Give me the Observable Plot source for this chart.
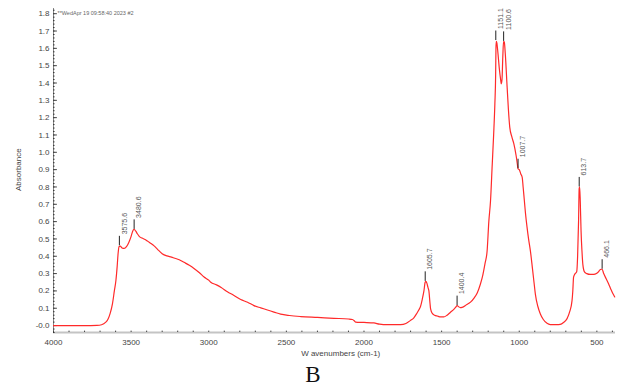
<!DOCTYPE html>
<html>
<head>
<meta charset="utf-8">
<script src="https://cdn.jsdelivr.net/npm/d3@7"></script>
<script src="https://cdn.jsdelivr.net/npm/@observablehq/plot@0.6"></script>
<style>
  body { margin: 0; background: #fff; }
  #wrap { position: relative; width: 621px; height: 389px; }
  #cap { position: absolute; left: 0; width: 626px; top: 362px; text-align: center; font-family: "Liberation Serif", "DejaVu Serif", serif; font-size: 23px; color: #111; line-height: 26px; }
</style>
</head>
<body>
<div id="wrap"><div id="chart"></div><div id="cap">B</div></div>
<script>
const wavenumbers = [4000,3800,3720,3690,3665,3650,3635,3620,3608,3598,3590,3584,3578,3570,3558,3545,3530,3515,3500,3490,3481,3470,3460,3448,3430,3410,3395,3375,3352,3330,3300,3270,3240,3223,3190,3159,3125,3095,3060,3030,3000,2987,2950,2920,2880,2840,2794,2750,2709,2665,2622,2580,2537,2480,2408,2300,2194,2100,2075,2060,2054,2000,1936,1900,1850,1764,1730,1700,1679,1660,1647,1636,1625,1614,1606,1601,1595,1588,1582,1575,1571,1560,1545,1528,1505,1486,1465,1443,1420,1410,1400,1392,1380,1368,1340,1314,1290,1270,1250,1235,1220,1207,1196,1185,1174,1165,1157,1152,1150,1148,1144,1138,1128,1120,1116,1111,1106,1101,1096,1090,1078,1070,1061,1048,1035,1020,1012,1008,1000,990,981,975,967,960,950,940,928,915,905,896,880,864,845,821,800,760,736,715,692,675,660,655,650,640,630,624,618,614,611,607,602,596,590,580,565,542,520,503,490,482,472,466,456,440,424,410,398,385];
const absorbance = [0.000,0.000,0.001,0.005,0.018,0.035,0.07,0.127,0.20,0.26,0.34,0.415,0.455,0.458,0.448,0.445,0.455,0.48,0.515,0.545,0.555,0.545,0.53,0.515,0.505,0.497,0.488,0.475,0.46,0.44,0.415,0.402,0.395,0.39,0.38,0.365,0.348,0.33,0.305,0.28,0.262,0.25,0.235,0.22,0.195,0.175,0.15,0.135,0.115,0.102,0.09,0.078,0.066,0.058,0.052,0.047,0.042,0.038,0.035,0.025,0.02,0.018,0.015,0.008,0.005,0.005,0.012,0.03,0.045,0.07,0.09,0.11,0.15,0.2,0.25,0.255,0.245,0.22,0.2,0.13,0.096,0.07,0.06,0.055,0.05,0.05,0.06,0.077,0.095,0.105,0.115,0.11,0.104,0.105,0.12,0.135,0.16,0.19,0.24,0.29,0.36,0.43,0.6,0.72,0.93,1.1,1.28,1.45,1.6,1.64,1.63,1.58,1.48,1.42,1.395,1.42,1.55,1.64,1.635,1.57,1.375,1.25,1.144,1.09,1.05,0.98,0.93,0.905,0.9,0.875,0.856,0.8,0.72,0.65,0.57,0.5,0.43,0.33,0.25,0.18,0.11,0.067,0.035,0.013,0.006,0.005,0.007,0.018,0.04,0.08,0.144,0.2,0.28,0.3,0.31,0.4,0.6,0.79,0.8,0.72,0.55,0.43,0.35,0.31,0.3,0.295,0.295,0.3,0.31,0.32,0.325,0.325,0.3,0.27,0.24,0.21,0.186,0.165];

const peakLabels = ["3575.6","3480.6","1605.7","1400.4","1151.1","1100.6","1007.7","613.7","466.1"];
const peakX = [3575.6,3480.6,1605.7,1400.4,1151.1,1100.6,1007.7,613.7,466.1];
const peakY = [0.46,0.555,0.255,0.115,1.645,1.64,0.905,0.80,0.325];

const xMajorTicks = [4000,3500,3000,2500,2000,1500,1000,500];
const yMajorTicks = [0,0.1,0.2,0.3,0.4,0.5,0.6,0.7,0.8,0.9,1.0,1.1,1.2,1.3,1.4,1.5,1.6,1.7,1.8];
const headerText = "**WedApr 19 09:58:40 2023 #2";
const xLabel = "W avenumbers (cm-1)";
const yLabel = "Absorbance";

const spectrum = wavenumbers.map((w, i) => ({w, a: absorbance[i]}));
const peaks = peakX.map((w, i) => ({w, a: peakY[i], label: peakLabels[i], top: peakY[i] + 0.055}));

const xMinor = d3.range(4000, 380, -100);
const yMinor = d3.range(-0.04, 1.83, 0.02);
const yBottom = -0.04;

const font = "'Liberation Sans', Arial, sans-serif";

const chart = Plot.plot({
  width: 621,
  height: 362,
  marginLeft: 53,
  marginRight: 6,
  marginTop: 8,
  marginBottom: 30,
  style: {fontFamily: font, background: "#fff"},
  x: {type: "linear", domain: [4000, 380], axis: null},
  y: {type: "linear", domain: [-0.04, 1.83], axis: null},
  marks: [
    // bottom axis line
    Plot.ruleY([yBottom], {stroke: "#c4c4c4", strokeWidth: 2}),
    // left axis line
    Plot.ruleX([4000], {y1: yBottom, y2: 1.83, stroke: "#888", strokeWidth: 1}),
    // minor ticks
    Plot.ruleY(yMinor, {x1: 4000, x2: 3990, stroke: "#333", strokeWidth: 1}),
    Plot.ruleX(xMinor, {y1: yBottom, y2: yBottom + 0.008, stroke: "#444", strokeWidth: 1}),
    // major ticks
    Plot.ruleY(yMajorTicks, {x1: 4000, x2: 3975, stroke: "#444", strokeWidth: 1}),
    Plot.text(yMajorTicks, {x: 4000, y: d => d, text: d => d === 0 ? "-0.0" : d.toFixed(1), textAnchor: "end", dx: -4, fontSize: 8, fill: "#444"}),
    Plot.text(xMajorTicks, {x: d => d, y: yBottom, text: d => String(d), dy: 10, fontSize: 8, fill: "#444"}),
    // axis titles
    Plot.text([xLabel], {x: 2150, y: yBottom, dy: 21, fontSize: 8, fill: "#444"}),
    Plot.text([yLabel], {x: 4000, y: 0.9, dx: -35, rotate: -90, fontSize: 8, fill: "#444"}),
    Plot.text([headerText], {x: 4000, y: 1.8, dx: 4, textAnchor: "start", fontSize: 5.5, fill: "#666"}),
    // spectrum
    Plot.line(spectrum, {x: "w", y: "a", stroke: "#ff2a2a", strokeWidth: 1.2, curve: "monotone-x"}),
    // peak markers
    Plot.ruleX(peaks, {x: "w", y1: "a", y2: "top", stroke: "#222", strokeWidth: 1}),
    Plot.text(peaks, {x: "w", y: "top", text: "label", rotate: -90, textAnchor: "start", dx: 5, dy: -2, fontSize: 7, fill: "#555"})
  ]
});
document.getElementById("chart").appendChild(chart);
</script>
</body>
</html>
